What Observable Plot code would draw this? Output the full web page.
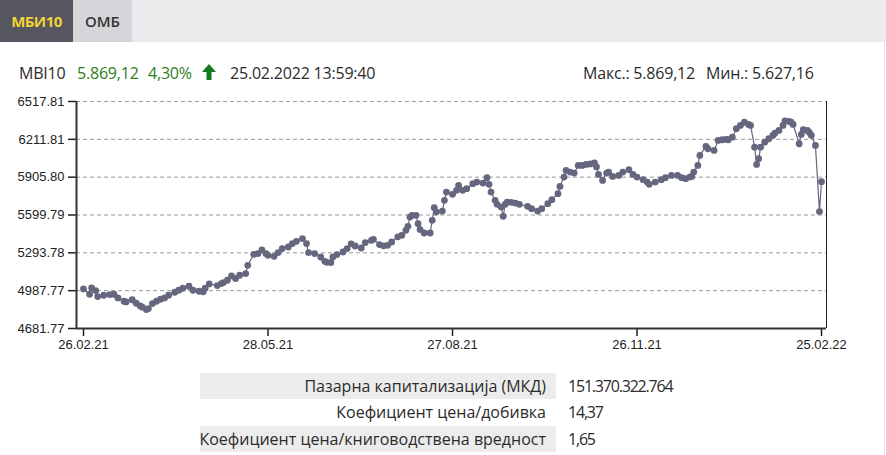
<!DOCTYPE html>
<html>
<head>
<meta charset="utf-8">
<script src="https://cdn.jsdelivr.net/npm/d3@7"></script>
<script src="https://cdn.jsdelivr.net/npm/@observablehq/plot@0.6"></script>
<style>
  html, body { margin: 0; padding: 0; background: #fff; }
  body { width: 886px; height: 455px; position: relative; overflow: hidden; font-family: "Open Sans", "Noto Sans", sans-serif; color: #2b2b2b; }
  .tabs { position: absolute; left: 0; top: 0; width: 886px; height: 42px; background: #ebebee; }
  .tab { position: absolute; top: 0; height: 42px; line-height: 42px; text-align: center; font-size: 15px; font-weight: 700; }
  .tab1 { left: 0; width: 73px; background: #55565f; color: #f2d335; letter-spacing: -0.5px; }
  .tab2 { left: 73px; width: 59px; background: #d6d6da; color: #333; font-weight: 600; }
  .hd { position: absolute; top: 62px; font-size: 16px; line-height: 22px; white-space: nowrap; letter-spacing: -0.2px; }
  .green { color: #2f7d22; }
  #chart { position: absolute; left: 0; top: 90px; }
  .row { position: absolute; left: 200px; width: 356px; height: 26px; }
  .row.bg { background: #ececec; }
  .lab { position: absolute; right: 10px; top: 0; line-height: 26px; font-size: 16px; white-space: nowrap; color: #2b2b2b; }
  .val { position: absolute; left: 568px; line-height: 26px; font-size: 16px; white-space: nowrap; color: #2b2b2b; letter-spacing: -1.2px; }
  .edge { position: absolute; right: 1px; top: 42px; width: 1px; height: 413px; background: #e4e4e4; }
</style>
</head>
<body>
<div class="tabs">
  <div class="tab tab1">МБИ10</div>
  <div class="tab tab2">ОМБ</div>
</div>
<div class="edge"></div>
<div class="hd" style="left:19px">MBI10</div>
<div class="hd green" style="left:77px">5.869,12</div>
<div class="hd green" style="left:148px">4,30%</div>
<svg class="hd" style="left:202px; top:64px" width="14" height="16" viewBox="0 0 14 16"><polygon points="7,0 14,8 9.5,8 9.5,16 4.5,16 4.5,8 0,8" fill="#137a1c"/></svg>
<div class="hd" style="left:230px">25.02.2022 13:59:40</div>
<div class="hd" style="left:583px">Макс.: 5.869,12</div>
<div class="hd" style="left:706px">Мин.: 5.627,16</div>
<div id="chart"></div>
<div class="row bg" style="top:373px"><span class="lab">Пазарна капитализација (МКД)</span></div>
<div class="val" style="top:373px">151.370.322.764</div>
<div class="row" style="top:399px"><span class="lab">Коефициент цена/добивка</span></div>
<div class="val" style="top:399px">14,37</div>
<div class="row bg" style="top:426px"><span class="lab">Коефициент цена/книговодствена вредност</span></div>
<div class="val" style="top:426px">1,65</div>
<script>
const dates = [
"2021-02-26","2021-03-01","2021-03-02","2021-03-04","2021-03-05","2021-03-08","2021-03-11","2021-03-13","2021-03-15","2021-03-18",
"2021-03-19","2021-03-22","2021-03-24","2021-03-26","2021-03-27","2021-03-29","2021-03-30","2021-04-01","2021-04-03","2021-04-05",
"2021-04-07","2021-04-09","2021-04-12","2021-04-14","2021-04-16","2021-04-19","2021-04-21","2021-04-24","2021-04-26","2021-04-27",
"2021-04-29","2021-05-03","2021-05-05","2021-05-06","2021-05-08","2021-05-10","2021-05-12","2021-05-14","2021-05-17","2021-05-18",
"2021-05-21","2021-05-23","2021-05-25","2021-05-27","2021-05-28","2021-05-31","2021-06-02","2021-06-04","2021-06-07","2021-06-09",
"2021-06-11","2021-06-14","2021-06-16","2021-06-17","2021-06-20","2021-06-23","2021-06-25","2021-06-26","2021-06-28","2021-06-29",
"2021-07-01","2021-07-04","2021-07-06","2021-07-08","2021-07-10","2021-07-13","2021-07-15","2021-07-18","2021-07-19","2021-07-22",
"2021-07-24","2021-07-26","2021-07-28","2021-07-31","2021-08-02","2021-08-04","2021-08-05","2021-08-06","2021-08-07","2021-08-09",
"2021-08-10","2021-08-11","2021-08-13","2021-08-16","2021-08-17","2021-08-18","2021-08-19","2021-08-22","2021-08-23","2021-08-24",
"2021-08-27","2021-08-29","2021-08-30","2021-09-01","2021-09-03","2021-09-06","2021-09-08","2021-09-11","2021-09-13","2021-09-14",
"2021-09-15","2021-09-17","2021-09-18","2021-09-20","2021-09-21","2021-09-22","2021-09-23","2021-09-25","2021-09-27","2021-09-29",
"2021-10-03","2021-10-05","2021-10-08","2021-10-10","2021-10-13","2021-10-15","2021-10-18","2021-10-19","2021-10-21","2021-10-22",
"2021-10-24","2021-10-26","2021-10-28","2021-10-30","2021-11-01","2021-11-03","2021-11-05","2021-11-06","2021-11-07","2021-11-09",
"2021-11-11","2021-11-12","2021-11-14","2021-11-17","2021-11-19","2021-11-22","2021-11-24","2021-11-26","2021-11-29","2021-12-01",
"2021-12-02","2021-12-05","2021-12-08","2021-12-10","2021-12-13","2021-12-16","2021-12-18","2021-12-20","2021-12-22","2021-12-23",
"2021-12-24","2021-12-26","2021-12-27","2021-12-30","2021-12-31","2022-01-03","2022-01-05","2022-01-07","2022-01-09","2022-01-10",
"2022-01-12","2022-01-14","2022-01-16","2022-01-18","2022-01-20","2022-01-21","2022-01-23","2022-01-24","2022-01-25","2022-01-26",
"2022-01-28","2022-01-30","2022-02-01","2022-02-02","2022-02-04","2022-02-06","2022-02-07","2022-02-09","2022-02-10","2022-02-11",
"2022-02-14","2022-02-15","2022-02-16","2022-02-18","2022-02-19","2022-02-20","2022-02-22","2022-02-24","2022-02-25"
];
const values = [
5001.7,4958.9,5009.8,4988.7,4940.3,4950.8,4956.4,4958.9,4929.0,4902.3,
4896.7,4914.4,4886.2,4864.4,4853.9,4835.3,4843.3,4883.7,4902.3,4918.5,
4929.0,4950.8,4975.0,4991.2,5007.3,5023.5,4991.2,4983.1,4979.1,5007.3,
5042.1,5029.2,5045.3,5053.4,5072.0,5106.7,5085.7,5112.4,5126.1,5193.1,
5282.0,5287.7,5318.3,5287.7,5273.9,5265.8,5295.7,5328.0,5341.0,5368.4,
5387.0,5408.8,5368.4,5295.7,5287.7,5260.2,5225.4,5217.4,5214.9,5260.2,
5279.6,5300.6,5328.0,5366.8,5349.0,5332.9,5376.5,5395.1,5403.2,5360.4,
5350.7,5354.7,5381.4,5423.4,5435.5,5475.9,5508.2,5583.3,5597.0,5597.0,
5530.0,5481.5,5454.1,5454.1,5556.6,5659.2,5623.7,5631.8,5718.2,5785.3,
5766.7,5799.0,5839.4,5799.0,5812.7,5853.1,5866.0,5858.0,5901.6,5847.5,
5785.3,5718.2,5685.9,5664.1,5589.0,5685.9,5704.5,5702.1,5696.4,5685.9,
5669.7,5651.2,5631.8,5651.2,5691.6,5723.9,5772.3,5831.3,5906.4,5960.5,
5946.8,5938.7,6000.9,6000.9,6009.0,6013.1,6021.1,5988.8,5928.2,5879.8,
5938.7,5946.8,5912.1,5920.2,5946.8,5966.2,5928.2,5906.4,5885.4,5866.0,
5847.5,5866.0,5885.4,5901.6,5920.2,5920.2,5901.6,5893.5,5906.4,5912.1,
5946.8,6000.9,6081.7,6154.4,6135.8,6122.1,6202.9,6208.5,6210.9,6208.5,
6229.5,6297.4,6324.1,6350.7,6332.1,6324.1,6148.7,6009.0,6055.1,6148.7,
6189.2,6216.6,6243.3,6261.9,6283.7,6324.1,6360.4,6356.4,6350.7,6332.1,
6176.2,6251.4,6289.3,6283.7,6267.5,6243.3,6162.5,5627.16,5869.12
];
const yTicks = [4681.77, 4987.77, 5293.78, 5599.79, 5905.80, 6211.81, 6517.81];
const xTickLabels = ["26.02.21", "28.05.21", "27.08.21", "26.11.21", "25.02.22"];

const parseDate = d3.utcParse("%Y-%m-%d");
const parseTick = d3.utcParse("%d.%m.%y");
const data = dates.map((d, i) => ({date: parseDate(d), value: values[i]}));
const xTicks = xTickLabels.map(parseTick);
const xMin = d3.utcHour.offset(xTicks[0], -83);
const xMax = d3.utcHour.offset(xTicks[xTicks.length - 1], 59);
const yMin = yTicks[0], yMax = yTicks[yTicks.length - 1];
const lineColor = "#65677f";

const chart = Plot.plot({
  width: 880,
  height: 270,
  marginLeft: 76,
  marginRight: 54,
  marginTop: 11,
  marginBottom: 32,
  style: {fontFamily: "'Liberation Sans', Arial, sans-serif", fontSize: "13px", color: "#222", background: "transparent", overflow: "visible"},
  x: {type: "utc", domain: [xMin, xMax]},
  y: {domain: [yMin, yMax]},
  marks: [
    Plot.ruleY(yTicks, {stroke: "#9a9a9a", strokeWidth: 1, strokeDasharray: "4,3"}),
    Plot.axisY({ticks: yTicks, tickFormat: d => d.toFixed(2), tickSize: 8, tickPadding: 4, stroke: "#222", strokeWidth: 1.5, label: null, fontSize: 13}),
    Plot.axisX({ticks: xTicks, tickFormat: d3.utcFormat("%d.%m.%y"), tickSize: 8, tickPadding: 3, stroke: "#222", strokeWidth: 1.5, label: null, fontSize: 13}),
    Plot.tickX([xMin, xMax], {y1: yMin, y2: yMin, stroke: "#222"}),
    Plot.ruleX([xMin], {stroke: "#333", strokeWidth: 2}),
    Plot.ruleY([yMin], {stroke: "#333", strokeWidth: 2}),
    Plot.line(data, {x: "date", y: "value", stroke: lineColor, strokeWidth: 1.2}),
    Plot.dot(data, {x: "date", y: "value", r: 3.4, fill: lineColor, stroke: "none"})
  ]
});
document.getElementById("chart").appendChild(chart);
</script>
</body>
</html>
